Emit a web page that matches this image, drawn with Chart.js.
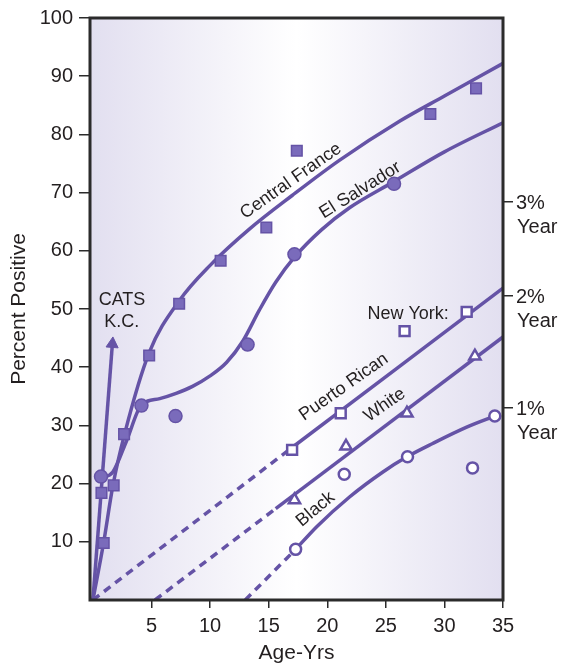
<!DOCTYPE html>
<html>
<head>
<meta charset="utf-8">
<script src="https://cdn.jsdelivr.net/npm/chart.js@4/dist/chart.umd.min.js"></script>
<style>
  body { margin: 0; background: #fff; }
</style>
</head>
<body>
<canvas id="ageChart" width="562" height="667"></canvas>
<script>
// axis ticks
const xTickValues = [5, 10, 15, 20, 25, 30, 35];
const yTickValues = [10, 20, 30, 40, 50, 60, 70, 80, 90, 100];
// yearly infection rate marks on the right side
const rateTickValues = [68.4, 52.3, 33];
const rateLabels = ["3%", "2%", "1%"];

// observed points [age, percent positive]
const centralFrancePts = [[0.73, 18.4], [0.92, 9.8], [1.77, 19.7], [2.66, 28.5], [4.8, 42], [7.36, 50.9],
  [10.9, 58.3], [14.8, 64], [17.4, 77.2], [28.8, 83.5], [32.7, 87.9]];
const elSalvadorPts = [[0.69, 21.2], [4.14, 33.4], [7.05, 31.6], [13.2, 43.9], [17.2, 59.4], [25.7, 71.5]];
const puertoRicanPts = [[17.0, 25.8], [21.15, 32.1], [26.6, 46.2], [31.9, 49.5]];
const whitePts = [[17.2, 17.2], [21.6, 26.4], [26.8, 32.1], [32.6, 41.9]];
const blackPts = [[17.3, 8.7], [21.45, 21.6], [26.85, 24.6], [32.4, 22.7], [34.3, 31.6]];

// fitted curves as drawn
const centralFranceCurve = [[0, 0], [0.9, 9.7], [1.7, 19.6], [2.7, 28.5], [4.8, 42.5], [7.4, 51.5], [10, 57.5],
  [13.4, 63.8], [17, 69.5], [21, 75.5], [26.2, 82.3], [30, 86.6], [35, 92.2]];
const elSalvadorCurve = [[0.7, 21], [1.7, 22], [2.9, 27.5], [4.1, 33.4], [5.7, 34.6], [7.1, 35.5], [8.5, 36.7],
  [10, 38.5], [11.4, 40.8], [12.8, 44.5], [14.2, 49.8], [15.6, 54.6], [17.2, 58.9], [19.5, 63.6],
  [21.9, 67.4], [25.6, 71.8], [30, 77], [35, 82]];
const catsLine = [[0, 0], [1.66, 44]];
const puertoRicanDash = [[0, 0], [17, 26.2]];
const puertoRicanLine = [[17, 26.2], [35, 53.6]];
const whiteDash = [[5.3, 0], [15.6, 15.7]];
const whiteLine = [[15.6, 15.7], [35, 45.2]];
const blackDash = [[13, 0], [17.3, 8.7]];
const blackCurve = [[17.3, 8.7], [19.1, 12.6], [21.9, 17.7], [24.75, 22], [26.8, 24.6], [29, 26.9],
  [31.9, 29.7], [34.3, 31.6]];

const purple = "#6553a6";
const purpleFill = "#7a6bbb";
const ink = "#231f20";
const fontFamily = "'Liberation Sans', Arial, Helvetica, sans-serif";

const toXY = (arr) => arr.map((p) => ({ x: p[0], y: p[1] }));

function curve(points, dashed) {
  return {
    data: toXY(points),
    showLine: true,
    borderColor: purple,
    borderWidth: 3.5,
    borderDash: dashed ? [8, 6] : [],
    cubicInterpolationMode: "monotone",
    pointRadius: 0,
    pointHoverRadius: 0,
  };
}

function markers(points, style, radius, filled) {
  return {
    data: toXY(points),
    showLine: false,
    pointStyle: style,
    pointRadius: radius,
    pointHoverRadius: radius,
    backgroundColor: filled ? purpleFill : "#ffffff",
    borderColor: purple,
    pointBorderWidth: filled ? 1.5 : 2.5,
  };
}

// text labels placed in data units
const notes = [
  { text: "CATS", x: 2.48, y: 51.5, angle: 0 },
  { text: "K.C.", x: 2.46, y: 47.7, angle: 0 },
  { text: "Central France", x: 16.9, y: 72.0, angle: -35 },
  { text: "El Salvador", x: 22.8, y: 70.4, angle: -32 },
  { text: "New York:", x: 26.9, y: 49.2, angle: 0 },
  { text: "Puerto Rican", x: 21.4, y: 36.6, angle: -35 },
  { text: "White", x: 24.9, y: 33.5, angle: -35 },
  { text: "Black", x: 19.0, y: 15.6, angle: -40 },
];

const decorPlugin = {
  id: "decor",
  beforeDatasetsDraw(chart) {
    const { ctx, chartArea: a } = chart;
    const g = ctx.createLinearGradient(a.left, 0, a.right, 0);
    g.addColorStop(0, "#e2dff0");
    g.addColorStop(0.5, "#ffffff");
    g.addColorStop(1, "#e2dff0");
    ctx.save();
    ctx.fillStyle = g;
    ctx.fillRect(a.left, a.top, a.right - a.left, a.bottom - a.top);
    ctx.restore();
  },
  afterDatasetsDraw(chart) {
    const { ctx, chartArea: a, scales } = chart;
    ctx.save();
    ctx.fillStyle = ink;
    ctx.font = "18px " + fontFamily;
    ctx.textAlign = "center";
    ctx.textBaseline = "middle";
    notes.forEach((n) => {
      ctx.save();
      ctx.translate(scales.x.getPixelForValue(n.x), scales.y.getPixelForValue(n.y));
      ctx.rotate((n.angle * Math.PI) / 180);
      ctx.fillText(n.text, 0, 0);
      ctx.restore();
    });

    // right side rate labels
    ctx.font = "20px " + fontFamily;
    ctx.textAlign = "left";
    rateTickValues.forEach((v, i) => {
      const py = scales.rate.getPixelForValue(v);
      ctx.fillText(rateLabels[i], a.right + 13, py + 2);
      ctx.fillText("Year", a.right + 14, py + 26);
    });

    // frame
    ctx.strokeStyle = "#2b2b2b";
    ctx.lineWidth = 3;
    ctx.strokeRect(a.left, a.top, a.right - a.left, a.bottom - a.top);
    ctx.restore();
  },
};

const tickGrid = (len) => ({
  drawOnChartArea: false,
  drawTicks: true,
  tickLength: len,
  color: "#2b2b2b",
  lineWidth: 1.5,
});

new Chart(document.getElementById("ageChart").getContext("2d"), {
  type: "scatter",
  data: {
    datasets: [
      markers(centralFrancePts, "rect", 7.5, true),
      markers(elSalvadorPts, "circle", 6.5, true),
      markers(puertoRicanPts, "rect", 7, false),
      markers(whitePts, "triangle", 6.5, false),
      markers(blackPts, "circle", 5.5, false),
      curve(centralFranceCurve, false),
      curve(elSalvadorCurve, false),
      {
        data: toXY(catsLine),
        showLine: true,
        borderColor: purple,
        borderWidth: 3.5,
        pointStyle: "triangle",
        pointRadius: [0, 7],
        pointHoverRadius: [0, 7],
        pointRotation: 4.4,
        backgroundColor: purple,
        pointBorderWidth: 1,
      },
      curve(puertoRicanDash, true),
      curve(puertoRicanLine, false),
      curve(whiteDash, true),
      curve(whiteLine, false),
      curve(blackDash, true),
      curve(blackCurve, false),
    ],
  },
  options: {
    responsive: false,
    animation: false,
    devicePixelRatio: 1,
    layout: { padding: { top: 18 } },
    plugins: { legend: { display: false }, tooltip: { enabled: false } },
    scales: {
      x: {
        type: "linear",
        position: "bottom",
        min: -0.25,
        max: 35,
        afterBuildTicks: (s) => { s.ticks = xTickValues.map((v) => ({ value: v })); },
        afterFit: (s) => { s.height = 67; },
        border: { display: false },
        grid: tickGrid(8),
        ticks: { color: ink, padding: 6, maxRotation: 0, autoSkip: false, font: { size: 20, family: fontFamily } },
        title: {
          display: true,
          text: "Age-Yrs",
          color: ink,
          padding: { bottom: 1 },
          font: { size: 21, family: fontFamily },
        },
      },
      y: {
        type: "linear",
        position: "left",
        min: 0,
        max: 100,
        afterBuildTicks: (s) => { s.ticks = yTickValues.map((v) => ({ value: v })); },
        afterFit: (s) => { s.width = 90; },
        border: { display: false },
        grid: tickGrid(11),
        ticks: { color: ink, padding: 6, font: { size: 20, family: fontFamily } },
        title: {
          display: true,
          text: "Percent Positive",
          color: ink,
          padding: { top: 7 },
          font: { size: 21, family: fontFamily },
        },
      },
      rate: {
        type: "linear",
        position: "right",
        min: 0,
        max: 100,
        afterBuildTicks: (s) => { s.ticks = rateTickValues.map((v) => ({ value: v })); },
        afterFit: (s) => { s.width = 59; },
        border: { display: false },
        grid: tickGrid(10),
        ticks: { display: false },
      },
    },
  },
  plugins: [decorPlugin],
});
</script>
</body>
</html>
